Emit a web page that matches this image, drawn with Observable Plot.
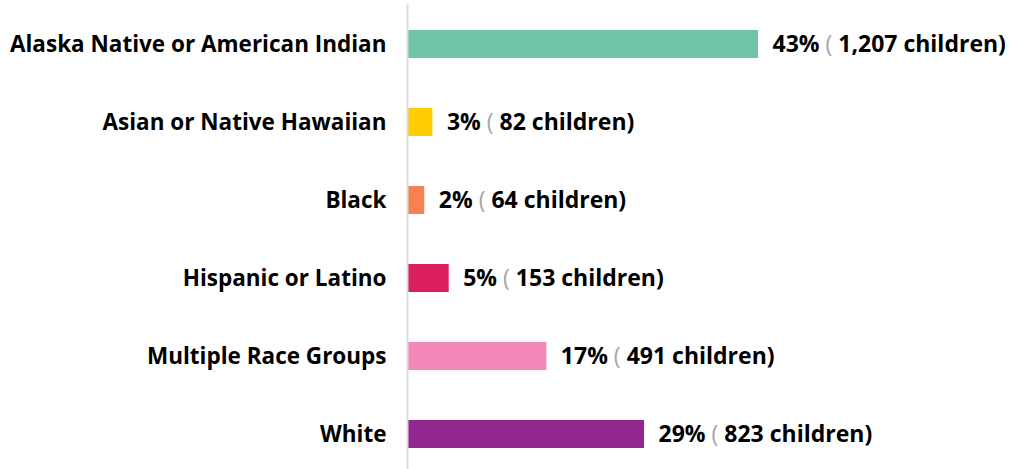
<!DOCTYPE html>
<html>
<head>
<meta charset="utf-8">
<script src="https://cdn.jsdelivr.net/npm/d3@7"></script>
<script src="https://cdn.jsdelivr.net/npm/@observablehq/plot@0.6"></script>
<style>
  html, body { margin: 0; padding: 0; background: #fff; }
</style>
</head>
<body>
<div id="chart"></div>
<script>
const categories = [
  "Alaska Native or American Indian",
  "Asian or Native Hawaiian",
  "Black",
  "Hispanic or Latino",
  "Multiple Race Groups",
  "White"
];
const percents = [43, 3, 2, 5, 17, 29];
const counts = ["1,207", "82", "64", "153", "491", "823"];
const colors = ["#70c5a7", "#ffcc00", "#f5824f", "#da1f5c", "#f288b8", "#91278f"];

const data = categories.map((c, i) => ({
  category: c,
  pct: percents[i],
  count: counts[i],
  color: colors[i]
}));

const FONT = "'Open Sans', sans-serif";

const chart = Plot.plot({
  width: 1012,
  height: 469,
  marginLeft: 408,
  marginRight: 254,
  marginTop: 14.4,
  marginBottom: 5.4,
  style: { fontFamily: FONT, fontSize: "22px", fontWeight: "bold", color: "#000", background: "#fff", overflow: "visible" },
  x: { domain: [0, 43], axis: null },
  y: { domain: categories, paddingInner: 0.641, paddingOuter: 0.2, round: false, label: null },
  marks: [
    Plot.axisY({ tickSize: 0, tickPadding: 22, fontSize: 22.5, fontWeight: "bold", fill: "#000" }),
    Plot.barX(data, { x: "pct", y: "category", fill: "color" }),
    Plot.ruleX([0], { stroke: "#dcdcdc", strokeWidth: 2, dx: -1, insetTop: -10, insetBottom: -6 }),
    Plot.text(data, {
      x: "pct", y: "category",
      text: d => `${d.pct}% ( ${d.count} children)`,
      textAnchor: "start", dx: 14, fontSize: 23, fontWeight: "bold", fill: "#000",
      className: "vlabel"
    })
  ]
});

// style the parenthesis lighter, like the reference
d3.select(chart).selectAll("g.vlabel text").each(function(d, i) {
  const row = data[i];
  const t = d3.select(this);
  t.text(null);
  t.append("tspan").text(`${row.pct}% `);
  t.append("tspan").attr("fill", "#a6a6a6").attr("font-weight", "normal").text("(");
  t.append("tspan").text(` ${row.count} children)`);
});

document.getElementById("chart").appendChild(chart);
</script>
</body>
</html>
